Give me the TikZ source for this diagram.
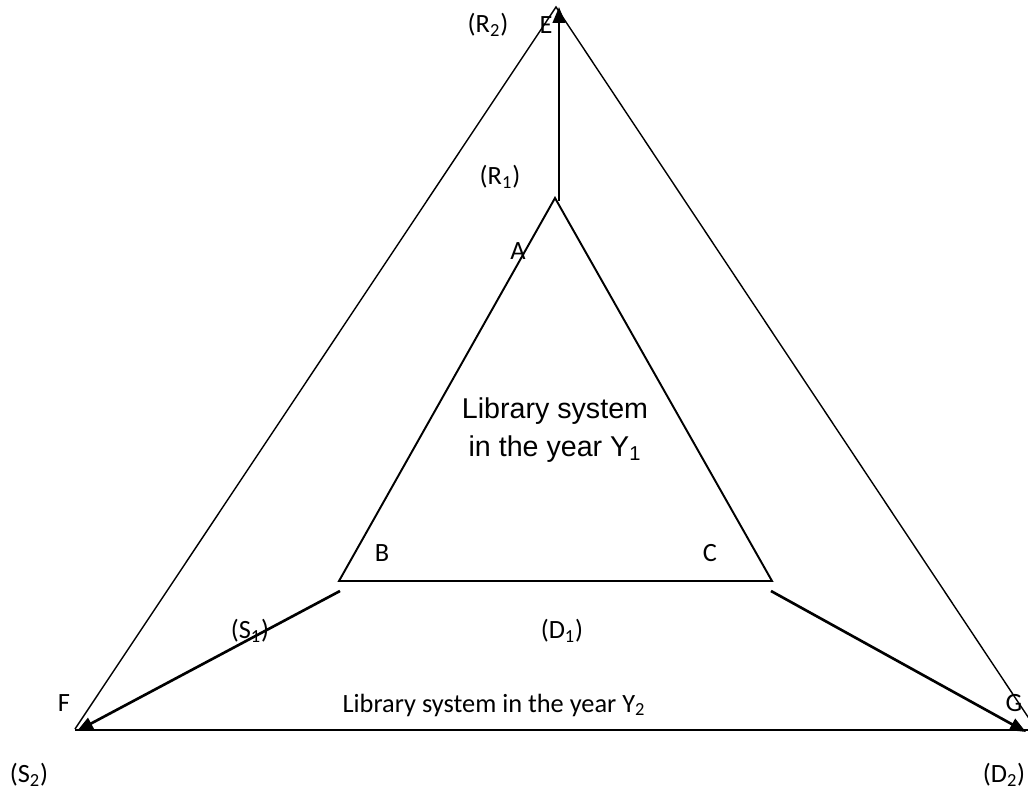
\documentclass[tikz,border=0pt]{standalone}
\usepackage{fontspec}
\setmainfont{Carlito}
\newfontfamily\arialfont{Liberation Sans}
\usetikzlibrary{arrows.meta}

\begin{document}
\begin{tikzpicture}[x=0.02cm, y=-0.02cm,
  outerline/.style={line width=0.8pt},
  innerline/.style={line width=1.1pt, line join=miter},
  baseline/.style={line width=1.1pt},
  flow/.style={line width=1.5pt, -{Triangle[length=0.32cm, width=0.25cm]}},
  lbl/.style={inner sep=0pt, font=\fontsize{15}{18}\selectfont},
  maintext/.style={inner sep=0pt, align=center,
    font=\arialfont\fontsize{16.3}{21.5}\selectfont}]

\useasboundingbox (0,0) rectangle (1028,794);
\clip (0,0) rectangle (1028,794);

% corners of the outer triangle
\coordinate (E) at (556,7);
\coordinate (F) at (75,729);
\coordinate (G) at (1036,729);

% corners of the inner triangle
\coordinate (A) at (555,198);
\coordinate (B) at (339,581);
\coordinate (C) at (772,581);

% arrow ends
\coordinate (Aout) at (559,201);
\coordinate (Etip) at (559,7);
\coordinate (Bout) at (340,591);
\coordinate (Ftip) at (77,731);
\coordinate (Cout) at (771,591);
\coordinate (Gtip) at (1026,732);
\coordinate (Fbase) at (75,730);
\coordinate (Gbase) at (1036,730);

% outer triangle (year Y2)
\draw[outerline] (F) -- (E) -- (G);
\draw[baseline] (Fbase) -- (Gbase);

% inner triangle (year Y1)
\draw[innerline] (A) -- (B) -- (C) -- cycle;

% growth arrows from Y1 to Y2
\draw[flow] (Aout) -- (Etip);
\draw[flow] (Bout) -- (Ftip);
\draw[flow] (Cout) -- (Gtip);

% labels
\node[lbl] (lR2) at (488,25) {(R\textsubscript{2})};
\node[lbl] (lE) at (546,25) {E};
\node[lbl] (lR1) at (500,177) {(R\textsubscript{1})};
\node[lbl] (lA) at (518,251) {A};
\node[lbl] (lB) at (382,553) {B};
\node[lbl] (lC) at (710,553) {C};
\node[lbl] (lD1) at (562,631) {(D\textsubscript{1})};
\node[lbl] (lS1) at (250,631) {(S\textsubscript{1})};
\node[lbl] (lF) at (64,703) {F};
\node[lbl] (lG) at (1014,703) {G};
\node[lbl] (lS2) at (29,775) {(S\textsubscript{2})};
\node[lbl] (lD2) at (1004,775) {(D\textsubscript{2})};
\node[lbl] (lY2) at (494,705) {Library system in the year Y\textsubscript{2}};

\node[maintext] (lY1) at (555,430) {Library system\\in the year Y\textsubscript{1}};
\end{tikzpicture}
\end{document}
